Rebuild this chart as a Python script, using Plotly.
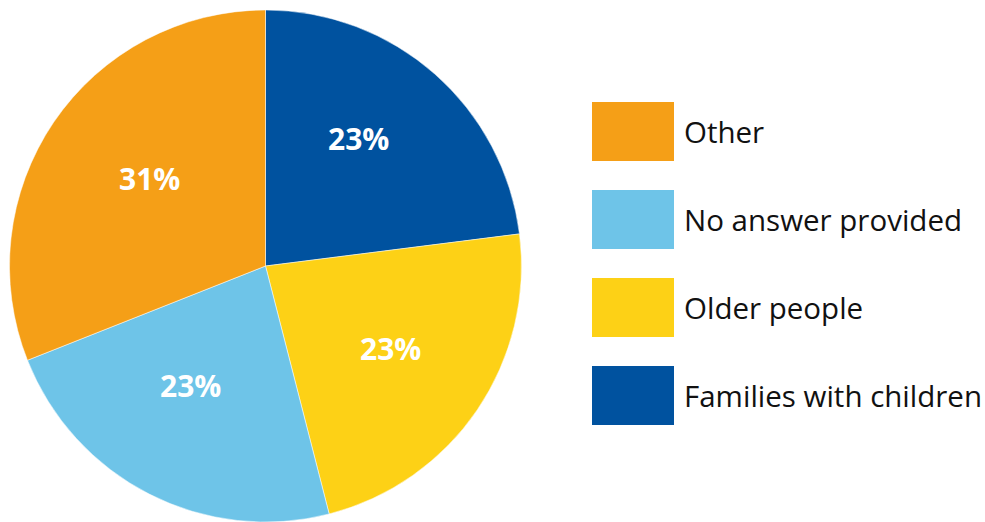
import plotly.graph_objects as go

# Survey share by group, listed clockwise from 12 o'clock
groups = ["Families with children", "Older people", "No answer provided", "Other"]
shares = [23, 23, 23, 31]
colors = ["#00529F", "#FDD116", "#6EC4E8", "#F59F17"]

W, H = 985, 522
FONT = "Open Sans, Noto Sans, sans-serif"

fig = go.Figure(
    go.Pie(
        labels=groups,
        values=shares,
        sort=False,
        direction="clockwise",
        rotation=0,
        marker=dict(colors=colors, line=dict(color="white", width=0.5)),
        textinfo="none",
        hoverinfo="label+percent",
        showlegend=False,
        domain=dict(x=[9.5 / W, 521.5 / W], y=[0, 512 / H]),
    )
)

# Percentage labels placed inside each slice (pixel anchor per slice)
label_px = [(358, 138), (390, 348), (190, 385), (149, 178)]
annotations = []
for (px, py), v in zip(label_px, shares):
    annotations.append(dict(
        text=f"{v}%", xref="paper", yref="paper",
        x=px / W, y=1 - py / H, xanchor="center", yanchor="middle",
        showarrow=False,
        font=dict(family=FONT, size=30, color="white", weight="bold"),
    ))

# Legend drawn with large swatches, listed in reverse slice order
sw_x0, sw_x1 = 592, 674
sw_h = 59
row_top = [102, 190, 278, 366]
shapes = []
for i, idx in enumerate(reversed(range(len(groups)))):
    y0 = row_top[i]
    shapes.append(dict(
        type="rect", xref="paper", yref="paper",
        x0=sw_x0 / W, x1=sw_x1 / W,
        y0=1 - (y0 + sw_h) / H, y1=1 - y0 / H,
        fillcolor=colors[idx], line=dict(width=0),
    ))
    annotations.append(dict(
        text=groups[idx], xref="paper", yref="paper",
        x=682 / W, y=1 - (y0 + sw_h / 2) / H,
        xanchor="left", yanchor="middle", showarrow=False,
        font=dict(family=FONT, size=29.5, color="#111111"),
    ))

fig.update_layout(
    width=W, height=H,
    margin=dict(l=0, r=0, t=0, b=0),
    paper_bgcolor="white", plot_bgcolor="white",
    shapes=shapes, annotations=annotations,
)

fig.write_html("out.html")
